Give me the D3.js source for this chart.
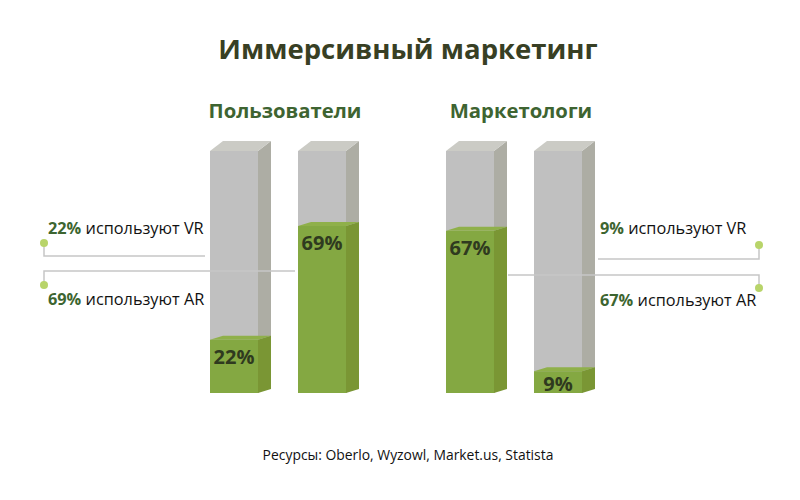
<!DOCTYPE html>
<html>
<head>
<meta charset="utf-8">
<script src="https://cdn.jsdelivr.net/npm/d3@7"></script>
<style>
  body { margin: 0; background: #fff; }
  text { font-family: "Open Sans", "Noto Sans", sans-serif; }
</style>
</head>
<body>
<div id="chart-area"></div>
<script>
// SVG Size
var width = 800,
    height = 500;

// Data
var title = "Иммерсивный маркетинг";
var groups = ["Пользователи", "Маркетологи"];
var barGroups = ["Пользователи", "Пользователи", "Маркетологи", "Маркетологи"];
var barTech = ["VR", "AR", "AR", "VR"];
var barValues = [22, 69, 67, 9];
var source = "Ресурсы: Oberlo, Wyzowl, Market.us, Statista";

var bars = barValues.map(function(v, i) {
    return { group: barGroups[i], tech: barTech[i], value: v, idx: i % 2 };
});

// 3D depth of the columns
var depthX = 13,
    depthY = 10,
    fillDepthY = 4;

var svg = d3.select("#chart-area")
    .append("svg")
    .attr("width", width)
    .attr("height", height);

// Scales
var x0 = d3.scaleBand()
    .domain(groups)
    .range([210, 582])
    .paddingInner(0.4237)
    .paddingOuter(0);

var x1 = d3.scaleBand()
    .domain([0, 1])
    .range([0, x0.bandwidth()])
    .paddingInner(0.4545)
    .paddingOuter(0);

var y = d3.scaleLinear()
    .domain([0, 100])
    .range([393, 151]);

var bw = x1.bandwidth();
function bx(d) { return x0(d.group) + x1(d.idx); }

// Title
svg.append("text")
    .attr("x", width / 2 + 8)
    .attr("y", 59)
    .attr("text-anchor", "middle")
    .attr("font-size", 27.5)
    .attr("font-weight", "bold")
    .attr("fill", "#383f24")
    .text(title);

// Group headers
svg.selectAll(".group-title")
    .data(groups)
    .enter()
    .append("text")
    .attr("class", "group-title")
    .attr("x", d => x0(d) + x0.bandwidth() / 2 + 7)
    .attr("y", 118)
    .attr("text-anchor", "middle")
    .attr("font-size", 20.3)
    .attr("font-weight", "bold")
    .attr("fill", "#3e6431")
    .text(d => d);

// draw one 3D column between two values
function column(g, x, y0, y1, dy, front, side, top) {
    g.append("rect")
        .attr("x", x).attr("y", y1)
        .attr("width", bw).attr("height", y0 - y1)
        .attr("fill", front);
    g.append("path")
        .attr("d", "M" + (x + bw) + "," + y0 + "L" + (x + bw) + "," + y1 +
            "L" + (x + bw + depthX) + "," + (y1 - dy) +
            "L" + (x + bw + depthX) + "," + (y0 - dy) + "Z")
        .attr("fill", side);
    g.append("path")
        .attr("d", "M" + x + "," + y1 + "L" + (x + depthX) + "," + (y1 - dy) +
            "L" + (x + bw + depthX) + "," + (y1 - dy) + "L" + (x + bw) + "," + y1 + "Z")
        .attr("fill", top);
}

var barG = svg.selectAll(".bar")
    .data(bars)
    .enter()
    .append("g")
    .attr("class", "bar");

barG.each(function(d) {
    var g = d3.select(this);
    var x = bx(d);
    column(g, x, y(0), y(100), depthY, "#c0c0c0", "#adada4", "#cbcbc5");
    column(g, x, y(0), y(d.value), fillDepthY, "#84a842", "#7a9634", "#8fb04a");
    // cut the base flat
    g.append("rect")
        .attr("x", x - 1).attr("y", y(0))
        .attr("width", bw + depthX + 2).attr("height", depthY + 2)
        .attr("fill", "#fff");
});

// value labels
barG.append("text")
    .attr("x", d => bx(d) + bw / 2)
    .attr("y", d => Math.min(y(d.value) + 24, y(0) - 2))
    .attr("text-anchor", "middle")
    .attr("font-size", 20)
    .attr("font-weight", "bold")
    .attr("fill", "#2f3a1f")
    .text(d => d.value + "%");

// Annotations
var lineColor = "#c6c6c6",
    dotColor = "#b8d46a";

function annotate(d, side, lineY, dotY, endX, textY) {
    var sx = side === "left" ? 44 : 759;
    svg.append("path")
        .attr("d", "M" + sx + "," + dotY + "L" + sx + "," + lineY + "L" + endX + "," + lineY)
        .attr("fill", "none")
        .attr("stroke", lineColor)
        .attr("stroke-width", 1.5);
    svg.append("circle")
        .attr("cx", sx).attr("cy", dotY).attr("r", 4)
        .attr("fill", dotColor);
    var t = svg.append("text")
        .attr("x", side === "left" ? 48 : 600)
        .attr("y", textY)
        .attr("font-size", 16.3)
        .attr("fill", "#111");
    t.append("tspan")
        .attr("font-weight", "bold")
        .attr("fill", "#3d6530")
        .text(d.value + "%");
    t.append("tspan").text(" используют " + d.tech);
}

annotate(bars[0], "left", 256, 243, bx(bars[0]) - 5, 234);
annotate(bars[1], "left", 271, 285, bx(bars[1]) - 3, 305);
annotate(bars[3], "right", 259, 245, bx(bars[3]) + bw + depthX + 3, 234);
annotate(bars[2], "right", 275, 288, bx(bars[2]) + bw + depthX + 1, 306);

// Source
svg.append("text")
    .attr("x", width / 2 + 8)
    .attr("y", 460)
    .attr("text-anchor", "middle")
    .attr("font-size", 13.9)
    .attr("fill", "#111")
    .text(source);
</script>
</body>
</html>
